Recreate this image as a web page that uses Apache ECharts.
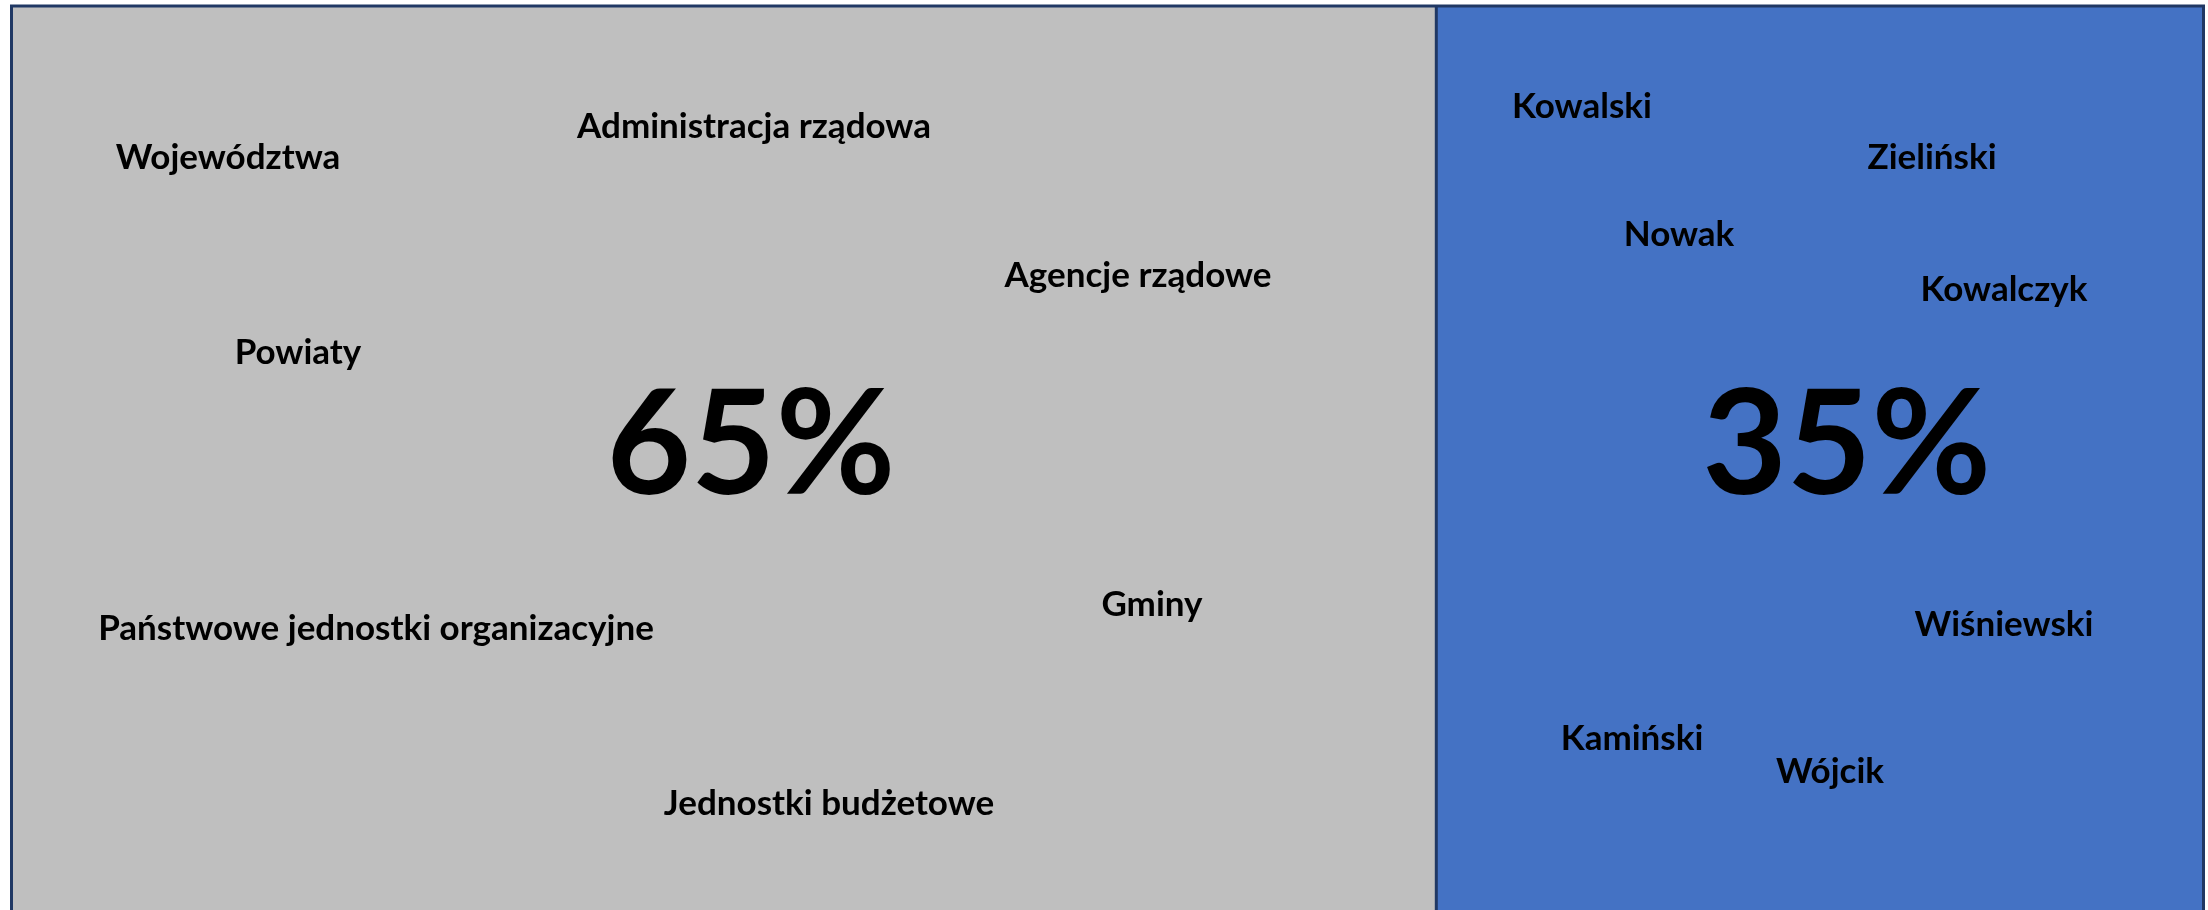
<!DOCTYPE html>
<html>
<head>
    <meta charset="UTF-8">
    <title>65% / 35%</title>
    <style>
        html, body { margin: 0; padding: 0; background: #fff; }
        #chart { width: 2208px; height: 910px; }
    </style>
    <script src="https://cdn.jsdelivr.net/npm/echarts@6/dist/echarts.min.js"></script>
</head>
<body>
<div id="chart"></div>
<script>
    // two blocks, share in percent
    var blockNames = ['Sektor publiczny', 'Osoby prywatne'];
    var blockValues = [65, 35];
    var blockColors = ['#BFBFBF', '#4472C4'];

    // words written over each block
    var leftWords = ['Województwa', 'Administracja rządowa', 'Agencje rządowe', 'Powiaty',
        'Gminy', 'Państwowe jednostki organizacyjne', 'Jednostki budżetowe'];
    var rightWords = ['Kowalski', 'Zieliński', 'Nowak', 'Kowalczyk',
        'Wiśniewski', 'Kamiński', 'Wójcik'];

    // where the words sit (centre, px)
    var leftPos = [[228, 158], [754, 127], [1138, 276], [298, 353], [1152, 605], [376, 629], [829, 804]];
    var rightPos = [[1582, 107], [1932, 158], [1679, 235], [2004, 290], [2004, 625], [1632, 739], [1830, 772]];
    // where the big percent sits inside each block
    var pctPos = [['51.9%', '47.3%'], ['53.5%', '47.3%']];

    var chart = echarts.init(document.getElementById('chart'));

    var data = [];
    for (var i = 0; i < blockValues.length; i++) {
        data.push({
            name: blockNames[i],
            value: blockValues[i],
            itemStyle: { color: blockColors[i] },
            label: { position: pctPos[i] }
        });
    }

    var graphics = [];
    function addWords(words, pos) {
        for (var i = 0; i < words.length; i++) {
            graphics.push({
                type: 'text',
                x: pos[i][0],
                y: pos[i][1],
                z: 100,
                silent: true,
                style: {
                    text: words[i],
                    font: 'bold 35px Lato',
                    fill: '#000',
                    align: 'center',
                    verticalAlign: 'middle'
                }
            });
        }
    }
    addWords(leftWords, leftPos);
    addWords(rightWords, rightPos);

    var option = {
        backgroundColor: '#fff',
        animation: false,
        series: [{
            type: 'treemap',
            left: 10,
            right: 3,
            top: 4.5,
            bottom: -30,
            roam: false,
            nodeClick: false,
            silent: true,
            breadcrumb: { show: false },
            levels: [
                { itemStyle: { borderColor: '#203864', borderWidth: 1.5, gapWidth: 0 } },
                { itemStyle: { borderColor: '#203864', borderWidth: 1.5, gapWidth: 0 } }
            ],
            label: {
                show: true,
                formatter: function (p) { return p.value + '%'; },
                color: '#000',
                fontFamily: 'Lato',
                fontWeight: 'bold',
                fontSize: 146,
                align: 'center',
                verticalAlign: 'middle',
                overflow: 'none'
            },
            upperLabel: { show: false },
            data: data
        }],
        graphic: graphics
    };
    chart.setOption(option);
</script>
</body>
</html>
